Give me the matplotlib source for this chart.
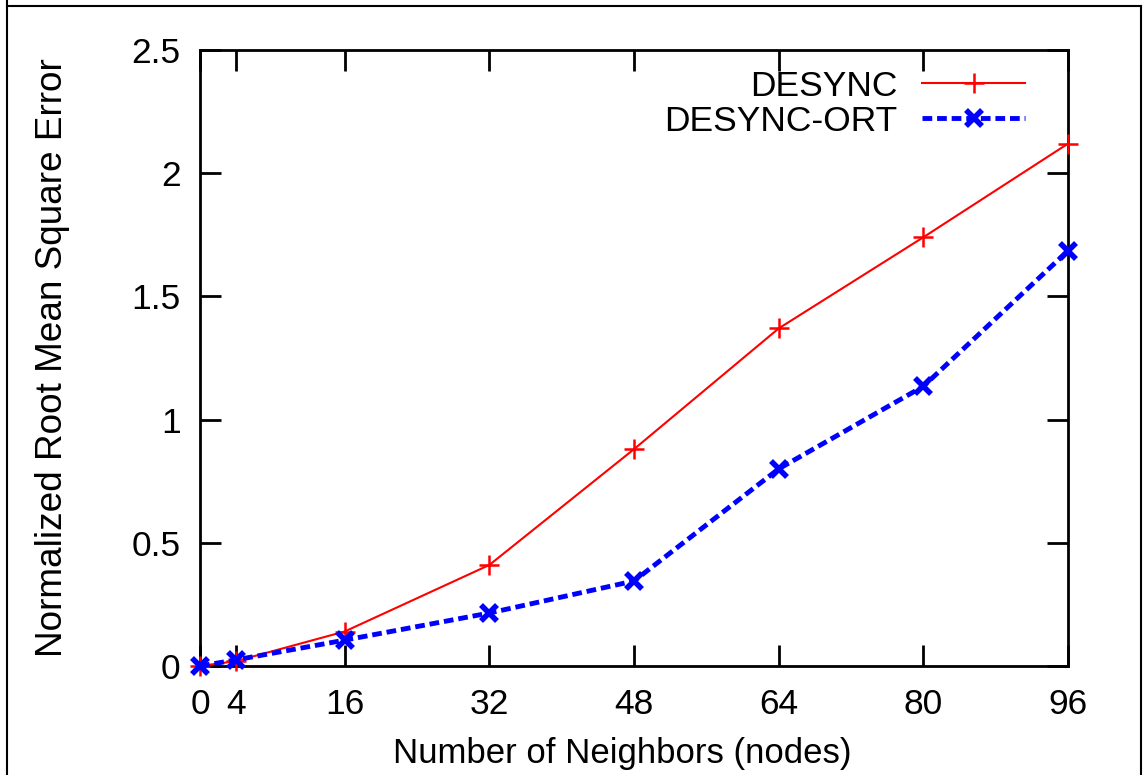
import numpy as np
import matplotlib
matplotlib.use('Agg')
import matplotlib.pyplot as plt
from matplotlib.lines import Line2D

# data
neighbors = [0, 4, 16, 32, 48, 64, 80, 96]
desync = [0.0, 0.02, 0.14, 0.41, 0.88, 1.37, 1.74, 2.12]
desync_ort = [0.0, 0.025, 0.105, 0.215, 0.345, 0.80, 1.135, 1.685]

x_ticks = [0, 4, 16, 32, 48, 64, 80, 96]
y_ticks = [0, 0.5, 1, 1.5, 2, 2.5]
y_tick_labels = ['0', '0.5', '1', '1.5', '2', '2.5']

plt.rcParams['font.family'] = ['Liberation Sans', 'DejaVu Sans']
fs = 25.5

fig = plt.figure(figsize=(11.43, 7.75), dpi=100)
ax = fig.add_axes([200 / 1143, 1 - 666 / 775, 868 / 1143, 616 / 775])

ax.plot(neighbors, desync, color='red', lw=1.5, marker='+',
        markersize=15, mew=1.8, label='DESYNC', clip_on=False, zorder=3)
ax.plot(neighbors, desync_ort, color='blue', lw=3.5, ls='--',
        dashes=(2.0, 1.0), marker='x', markersize=12, mew=4,
        label='DESYNC-ORT', clip_on=False, zorder=4)

ax.set_xlim(0, 96)
ax.set_ylim(0, 2.5)
ax.set_xticks(x_ticks)
ax.set_yticks(y_ticks)
ax.set_yticklabels(y_tick_labels)
ax.tick_params(direction='in', length=15, width=2, top=True, right=True,
               labelsize=fs)
ax.tick_params(axis='x', pad=16)
ax.tick_params(axis='y', pad=14)
for s in ax.spines.values():
    s.set_linewidth(2)

ax.set_xlabel('Number of Neighbors (nodes)', fontsize=25, labelpad=13)
ax.xaxis.set_label_coords(0.486, -0.115)
ax.set_ylabel('Normalized Root Mean Square Error', fontsize=26.6, labelpad=44)

ax.legend(loc='upper right', markerfirst=False, frameon=False,
          handlelength=2.9, handletextpad=0.7, labelspacing=0.05,
          borderaxespad=0.3, fontsize=fs, bbox_to_anchor=(0.979, 1.008))

# outer frame around the figure
for xs, ys in [([7, 7], [0, 775]), ([7, 1141], [6, 6]),
               ([1141, 1141], [6, 775])]:
    fig.add_artist(Line2D([x / 1143 for x in xs], [1 - y / 775 for y in ys],
                          color='black', lw=1.5, transform=fig.transFigure))

fig.savefig('out.png', dpi=100)
